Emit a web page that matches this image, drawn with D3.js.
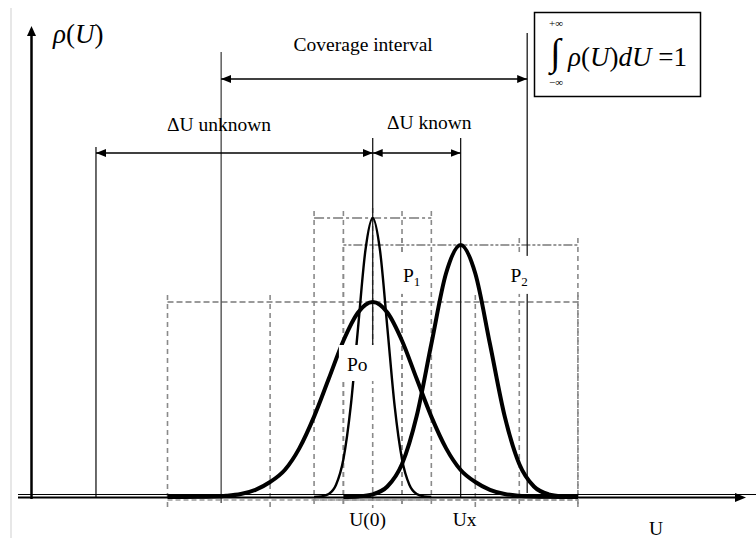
<!DOCTYPE html>
<html><head><meta charset="utf-8">
<script src="https://cdn.jsdelivr.net/npm/d3@7"></script>
<style>
html,body{margin:0;padding:0;background:#fff;}
svg{display:block;}
text{font-family:"Liberation Serif","Times New Roman",serif;fill:#000;}
</style></head>
<body>
<svg id="chart" width="756" height="538"></svg>
<script>
// ---------- data (U in schematic units, rho in relative density) ----------
const curvePoU   = [-7,-6.5,-6,-5.5,-5,-4.5,-4,-3.5,-3,-2.5,-2,-1.5,-1,-0.5,0,0.5,1,1.5,2,2.5,3,3.5,4,4.5,5,5.5,6,6.5,7];
const curvePoRho = [0,0,0.0005,0.0015,0.004,0.01,0.024,0.05,0.09,0.163,0.268,0.394,0.521,0.615,0.65,0.615,0.521,0.394,0.268,0.163,0.09,0.05,0.024,0.01,0.004,0.0015,0.0005,0,0];
const curveP1U   = [-2,-1.75,-1.5,-1.25,-1,-0.75,-0.5,-0.25,0,0.25,0.5,0.75,1,1.25,1.5,1.75,2];
const curveP1Rho = [0,0.002,0.01,0.041,0.126,0.302,0.564,0.821,0.93,0.821,0.564,0.302,0.126,0.041,0.01,0.002,0];
const curveP2U   = [-1,-0.5,0,0.5,1,1.5,2,2.5,3,3.5,4,4.5,5,5.5,6,6.5,7];
const curveP2Rho = [0,0.002,0.009,0.035,0.11,0.27,0.51,0.745,0.84,0.745,0.51,0.27,0.11,0.035,0.009,0.002,0];

// probability boxes: centre, inner half-width, top (rho)
const boxNames   = ["Po","P1","P2"];
const boxCenter  = [0, 0, 3];
const boxHalf    = [3.5, 1, 2];
const boxTop     = [0.65, 0.93, 0.84];

// reference values on the U axis
const markerLabels = ["U(0)", "Ux"];
const markerU      = [0, 3];
const coverageInterval = [-5.17, 5.27];
const unknownInterval  = [-9.44, 0];
const knownInterval    = [0, 3];
const intervalLabels   = ["Coverage interval", "ΔU unknown", "ΔU known"];

// ---------- scales ----------
const x = d3.scaleLinear().domain([-12.1, 12.7]).range([18, 745]);
const y = d3.scaleLinear().domain([0, 1]).range([497, 197]);

const svg = d3.select("#chart");
const defs = svg.append("defs");
defs.append("marker").attr("id","ah").attr("viewBox","0 0 10 8")
  .attr("refX",10).attr("refY",4).attr("markerWidth",10).attr("markerHeight",8)
  .attr("markerUnits","userSpaceOnUse").attr("orient","auto-start-reverse")
  .append("path").attr("d","M0,0L10,4L0,8Z").attr("fill","#000");

// left border line
svg.append("line").attr("x1",11).attr("x2",11).attr("y1",8).attr("y2",538)
  .attr("stroke","#cfcfcf").attr("stroke-width",1);

// ---------- dashed probability boxes ----------
const boxDash  = ["6,3","10,3,3,3","3,2,3,2,9,2"];
const boxWidth = [2.2, 2, 2];
const g = svg.append("g");
boxNames.forEach((n,i)=>{
  const c = boxCenter[i], w = boxHalf[i], top = y(boxTop[i]);
  [c-2*w, c-w, c+w, c+2*w].forEach(u=>{
    g.append("line").attr("x1",x(u)).attr("x2",x(u)).attr("y1",top-7).attr("y2",508)
      .attr("stroke","#8a8a8a").attr("stroke-width",1.6).attr("stroke-dasharray","5,4");
  });
  g.append("line").attr("x1",x(c-2*w)).attr("x2",x(c+2*w)).attr("y1",top).attr("y2",top)
    .attr("stroke","#9a9a9a").attr("stroke-width",boxWidth[i]).attr("stroke-dasharray",boxDash[i]);
  g.append("line").attr("x1",x(c-2*w)).attr("x2",x(c+2*w)).attr("y1",500).attr("y2",500)
    .attr("stroke","#9a9a9a").attr("stroke-width",1.6).attr("stroke-dasharray","5,3");
});
// centre dashed line of the narrow peak
g.append("line").attr("x1",x(0)).attr("x2",x(0)).attr("y1",y(boxTop[1])-10).attr("y2",508)
  .attr("stroke","#8a8a8a").attr("stroke-width",1.6).attr("stroke-dasharray","5,4");

// ---------- solid reference verticals ----------
const vl = svg.append("g").attr("stroke","#1a1a1a").attr("stroke-width",1.3);
vl.append("line").attr("x1",x(unknownInterval[0])).attr("x2",x(unknownInterval[0])).attr("y1",147).attr("y2",497);
vl.append("line").attr("x1",x(coverageInterval[0])).attr("x2",x(coverageInterval[0])).attr("y1",52).attr("y2",503).attr("stroke","#444");
vl.append("line").attr("x1",x(coverageInterval[1])).attr("x2",x(coverageInterval[1])).attr("y1",33).attr("y2",493);
vl.append("line").attr("x1",x(markerU[0])).attr("x2",x(markerU[0])).attr("y1",138).attr("y2",350);
vl.append("line").attr("x1",x(markerU[1])).attr("x2",x(markerU[1])).attr("y1",138).attr("y2",497);

// ---------- interval arrows ----------
function arrow(a,b,yy){
  svg.append("line").attr("x1",x(a)).attr("x2",x(b)).attr("y1",yy).attr("y2",yy)
    .attr("stroke","#000").attr("stroke-width",1.5)
    .attr("marker-start","url(#ah)").attr("marker-end","url(#ah)");
}
arrow(coverageInterval[0], coverageInterval[1], 79);
arrow(unknownInterval[0], unknownInterval[1], 153);
arrow(knownInterval[0], knownInterval[1], 153);

svg.append("text").attr("x",(x(coverageInterval[0])+x(coverageInterval[1]))/2-11).attr("y",51)
  .attr("text-anchor","middle").attr("font-size",19.5).text(intervalLabels[0]);
svg.append("text").attr("x",167).attr("y",131).attr("font-size",19.5).text(intervalLabels[1]);
svg.append("text").attr("x",387).attr("y",129).attr("font-size",19.5).text(intervalLabels[2]);

// ---------- curves ----------
const line = d3.line().x(d=>x(d[0])).y(d=>y(d[1])).curve(d3.curveMonotoneX);
const curves = [
  {u:curvePoU, r:curvePoRho, w:4},
  {u:curveP1U, r:curveP1Rho, w:2.4},
  {u:curveP2U, r:curveP2Rho, w:4}
];
curves.forEach(c=>{
  svg.append("path").datum(c.u.map((u,i)=>[u,c.r[i]])).attr("d",line)
    .attr("fill","none").attr("stroke","#000").attr("stroke-width",c.w).attr("stroke-linejoin","round");
});

// ---------- box labels with white backgrounds ----------
const labelU   = [-0.88, 1.03, 4.7];
const labelRho = [0.42, 0.717, 0.717];
boxNames.forEach((n,i)=>{
  const lx = x(labelU[i]), ly = y(labelRho[i]);
  svg.append("rect").attr("x",lx-8).attr("y",ly-26).attr("width",i===0?48:30).attr("height",i===0?36:38).attr("fill","#fff");
  const t = svg.append("text").attr("x",lx).attr("y",ly).attr("font-size",19.5);
  if(i===0){ t.text(n); }
  else { t.append("tspan").text("P"); t.append("tspan").attr("font-size",13).attr("dy",4).text(n.slice(1)); }
});

// ---------- axes ----------
svg.append("line").attr("x1",18).attr("x2",756).attr("y1",494.5).attr("y2",494.5).attr("stroke","#000").attr("stroke-width",1);
svg.append("line").attr("x1",18).attr("x2",738).attr("y1",497.5).attr("y2",497.5).attr("stroke","#000").attr("stroke-width",2);
svg.append("path").attr("d","M735,493L746,497.5L735,502Z").attr("fill","#000");
svg.append("line").attr("x1",31.5).attr("x2",31.5).attr("y1",499).attr("y2",34).attr("stroke","#000").attr("stroke-width",2.5);
svg.append("path").attr("d","M27,36L31.5,26L36,36Z").attr("fill","#000");

// axis labels
svg.append("text").attr("x",656).attr("y",535).attr("text-anchor","middle").attr("font-size",19.5).text("U");
markerLabels.forEach((m,i)=>{
  svg.append("text").attr("x",x(markerU[i])+(i===0?-5:4)).attr("y",526).attr("text-anchor","middle").attr("font-size",19.5).text(m);
});

// rho(U) label
const rl = svg.append("text").attr("x",53).attr("y",43).attr("font-size",27);
rl.append("tspan").attr("font-style","italic").text("ρ");
rl.append("tspan").text("(");
rl.append("tspan").attr("font-style","italic").text("U");
rl.append("tspan").text(")");

// ---------- normalisation box ----------
svg.append("rect").attr("x",534.5).attr("y",12.5).attr("width",166).attr("height",84)
  .attr("fill","#fff").attr("stroke","#000").attr("stroke-width",1.5);
svg.append("text").attr("x",550).attr("y",65).attr("font-size",38).text("∫");
svg.append("text").attr("x",549).attr("y",27).attr("font-size",11).text("+∞");
svg.append("text").attr("x",549).attr("y",86).attr("font-size",11).text("−∞");
const ft = svg.append("text").attr("x",568).attr("y",66).attr("font-size",27);
ft.append("tspan").attr("font-style","italic").text("ρ");
ft.append("tspan").text("(");
ft.append("tspan").attr("font-style","italic").text("U");
ft.append("tspan").text(")");
ft.append("tspan").attr("font-style","italic").text("dU");
ft.append("tspan").text(" =1");
</script>
</body></html>
